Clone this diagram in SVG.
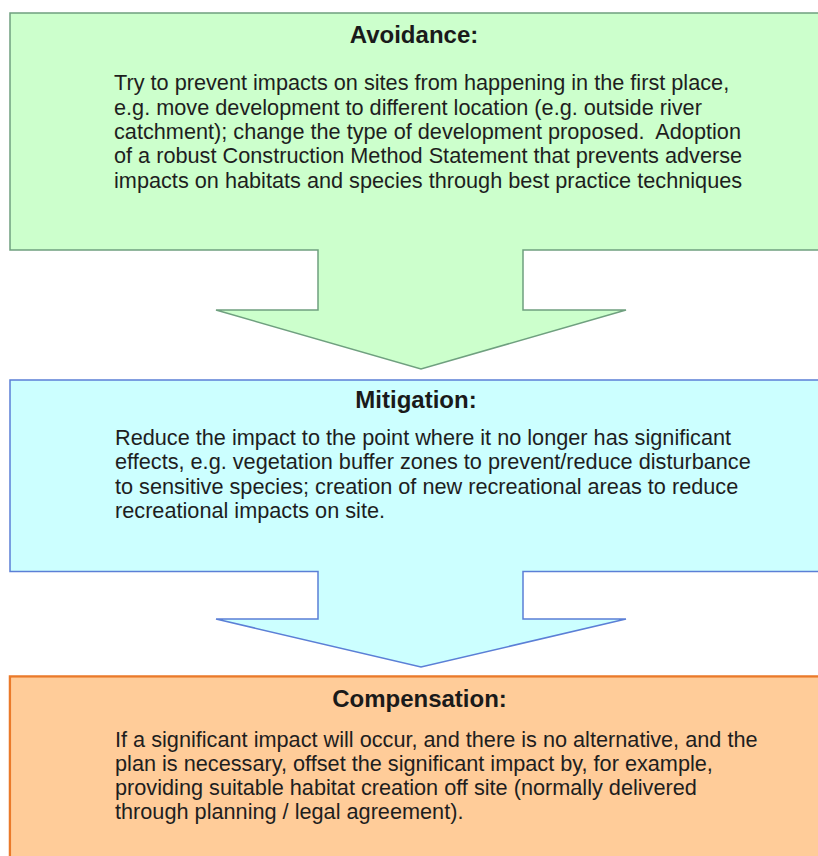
<svg xmlns="http://www.w3.org/2000/svg" width="818" height="856" viewBox="0 0 818 856">
<style>
.title{font-family:"Liberation Sans",Arial,sans-serif;font-weight:bold;font-size:24px;fill:#1a1a1a;text-anchor:middle}
.body{font-family:"Liberation Sans",Arial,sans-serif;font-size:21.7px;fill:#1e1e1e;white-space:pre}
.green{fill:#CCFFCC;stroke:#6FA07F;stroke-width:1.5}
.blue{fill:#CCFFFF;stroke:#5B7FD6;stroke-width:1.5}
.orange{fill:#FFCC99;stroke:#EA7A2A;stroke-width:2.5}
</style>
<rect width="818" height="856" fill="#ffffff"/>
<g id="avoidance">
<path class="green" d="M10,13 H840 V250 H523 V310 H626 L421,369 L216,310 H318 V250 H10 Z"/>
<text class="title" x="414" y="43">Avoidance:</text>
<text class="body" x="114" y="90">Try to prevent impacts on sites from happening in the first place,</text>
<text class="body" x="114" y="114.5">e.g. move development to different location (e.g. outside river</text>
<text class="body" x="114" y="139" xml:space="preserve">catchment); change the type of development proposed.  Adoption</text>
<text class="body" x="114" y="163.3">of a robust Construction Method Statement that prevents adverse</text>
<text class="body" x="114" y="187.7">impacts on habitats and species through best practice techniques</text>
</g>
<g id="mitigation">
<path class="blue" d="M10,380 H840 V571.5 H523 V619 H626 L421,667 L216,619 H318 V571.5 H10 Z"/>
<text class="title" x="416" y="408">Mitigation:</text>
<text class="body" x="115" y="445">Reduce the impact to the point where it no longer has significant</text>
<text class="body" x="115" y="469.3">effects, e.g. vegetation buffer zones to prevent/reduce disturbance</text>
<text class="body" x="115" y="493.5">to sensitive species; creation of new recreational areas to reduce</text>
<text class="body" x="115" y="517.7">recreational impacts on site.</text>
</g>
<g id="compensation">
<path class="orange" d="M10,870 V676.5 H840"/>
<rect x="11.25" y="677.75" width="830" height="200" fill="#FFCC99"/>
<text class="title" x="419.5" y="707">Compensation:</text>
<text class="body" x="115" y="746.7">If a significant impact will occur, and there is no alternative, and the</text>
<text class="body" x="115" y="770.8">plan is necessary, offset the significant impact by, for example,</text>
<text class="body" x="115" y="795">providing suitable habitat creation off site (normally delivered</text>
<text class="body" x="115" y="819.3">through planning / legal agreement).</text>
</g>
<g id="connectors"></g>
</svg>
